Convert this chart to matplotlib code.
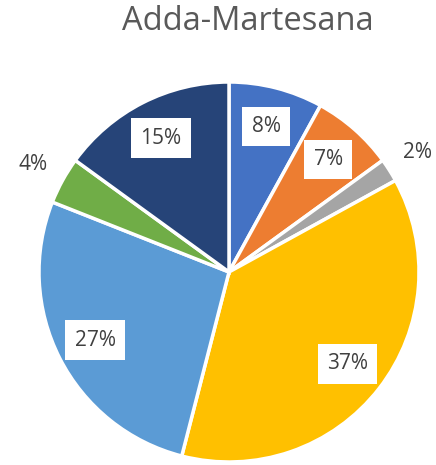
import numpy as np
import matplotlib.pyplot as plt

labels = ["A", "B", "C", "D", "E", "F", "G"]
shares = [8, 7, 2, 37, 27, 4, 15]
colors = ["#4472C4", "#ED7D31", "#A5A5A5", "#FFC000", "#5B9BD5", "#70AD47", "#264478"]
outside = [False, False, True, False, False, True, False]

plt.rcParams["font.family"] = ["Open Sans", "DejaVu Sans"]

fig = plt.figure(figsize=(4.36, 4.65), dpi=100)
ax = fig.add_axes([39 / 436, 3 / 465, 380 / 436, 380 / 465])

wedges, _ = ax.pie(
    shares,
    colors=colors,
    startangle=90,
    counterclock=False,
    radius=1,
    wedgeprops=dict(edgecolor="white", linewidth=2.5),
)

for w, val, out in zip(wedges, shares, outside):
    mid = np.deg2rad((w.theta1 + w.theta2) / 2)
    if out:
        r = 1.175
        ax.text(r * np.cos(mid), r * np.sin(mid), f"{val}%", ha="center", va="center",
                fontsize=15, color="#404040")
    else:
        r = 0.79
        ax.text(r * np.cos(mid), r * np.sin(mid), f"{val}%", ha="center", va="center",
                fontsize=15, color="#404040",
                bbox=dict(boxstyle="square,pad=0.45", fc="white", ec="none"))

ax.set_xlim(-1.0, 1.0)
ax.set_ylim(-1.0, 1.0)
ax.set_aspect("equal")
ax.axis("off")

fig.text(0.569, 0.953, "Adda-Martesana", ha="center", va="center", fontsize=23.5, color="#595959")

fig.savefig("out.png", dpi=100)
